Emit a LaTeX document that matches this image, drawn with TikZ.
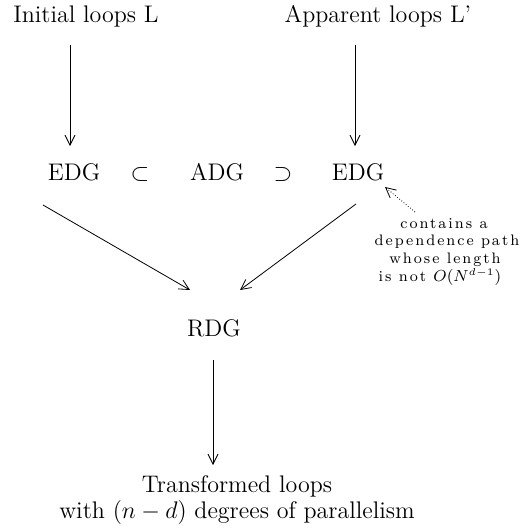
\documentclass[tikz,border=0pt]{standalone}
\usepackage{fontspec}
\newfontfamily\notefont[LetterSpace=13]{Latin Modern Roman}
\usetikzlibrary{arrows.meta}
\begin{document}
\begin{tikzpicture}[x=0.5pt,y=-0.5pt,
  lbl/.style={inner sep=0pt, anchor=base, font=\fontsize{12}{15}\selectfont},
  note/.style={inner sep=0pt, anchor=base, font=\notefont\fontsize{7.6}{9}\selectfont},
  arr/.style={-{Straight Barb[length=5pt,width=5pt]}, line width=0.4pt},
  darr/.style={arr, densely dotted}]
\useasboundingbox (0,0) rectangle (523,531);
\node[lbl] (init) at (86,22) {Initial loops L};
\node[lbl] (app) at (378,22) {Apparent loops L'};
\node[lbl] (edg1) at (74,180) {EDG};
\node[lbl] (sub) at (140,180) {$\subset$};
\node[lbl] (adg) at (217,180) {ADG};
\node[lbl] (sup) at (283,180) {$\supset$};
\node[lbl] (edg2) at (358,180) {EDG};
\node[lbl] (rdg) at (214,336) {RDG};
\node[lbl] (tr1) at (237,492) {Transformed loops};
\node[lbl] (tr2) at (237,518) {with $(n-d)$ degrees of parallelism};
\node[note] (n1) at (444,228) {contains a};
\node[note] (n2) at (447,245) {dependence path};
\node[note] (n3) at (445,263) {whose length};
\node[note] (n4) at (440,281) {is not $O(N^{d-1})$};
\coordinate (a1s) at (70,45);
\coordinate (a1e) at (70,146);
\coordinate (a2s) at (355,45);
\coordinate (a2e) at (355,146);
\coordinate (d1s) at (43,205);
\coordinate (d1e) at (190,290);
\coordinate (d2s) at (356,204);
\coordinate (d2e) at (240,290);
\coordinate (a3s) at (213,360);
\coordinate (a3e) at (213,465);
\coordinate (ns) at (415,212);
\coordinate (ne) at (385,187);
\draw[arr] (a1s) -- (a1e);
\draw[arr] (a2s) -- (a2e);
\draw[arr] (d1s) -- (d1e);
\draw[arr] (d2s) -- (d2e);
\draw[arr] (a3s) -- (a3e);
\draw[darr] (ns) -- (ne);
\end{tikzpicture}
\end{document}
